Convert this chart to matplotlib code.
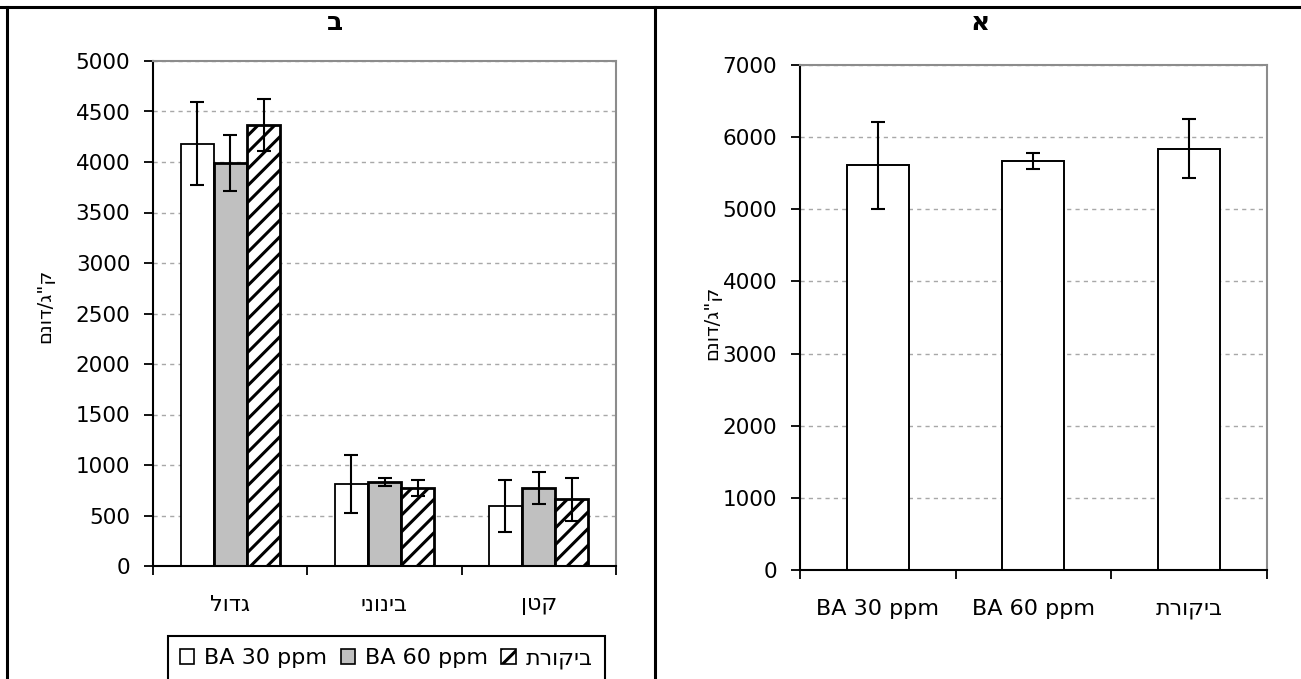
import matplotlib
matplotlib.use("Agg")
import matplotlib.pyplot as plt
from matplotlib.patches import Patch
from matplotlib.lines import Line2D
import numpy as np

plt.rcParams['font.family'] = ['DejaVu Sans']
plt.rcParams['hatch.linewidth'] = 2.2


def heb(s):
    # matplotlib has no bidi, so Hebrew strings are handed over in visual order
    if any('\u0590' <= c <= '\u05ff' for c in s):
        return s[::-1]
    return s


# panel ב - yield split by fruit size
sizes = ['גדול', 'בינוני', 'קטן']
ba30 = [4180, 810, 595]
ba30_err = [410, 290, 260]
ba60 = [3990, 830, 775]
ba60_err = [275, 40, 160]
control = [4365, 770, 660]
control_err = [260, 80, 210]

# panel א - total yield
treatments = ['BA 30 ppm', 'BA 60 ppm', 'ביקורת']
total = [5610, 5670, 5840]
total_err = [600, 110, 405]

ylabel = 'ק"ג/דונם'
W, H = 1301, 679

fig = plt.figure(figsize=(W / 100, H / 100), dpi=100)
axL = fig.add_axes([153.3 / W, 113 / H, 462.4 / W, 505 / H])
axR = fig.add_axes([800 / W, 109 / H, 466.7 / W, 505 / H])


def style(ax, ymax, step, labels):
    ax.set_xlim(-0.5, 2.5)
    ax.set_ylim(0, ymax)
    ax.set_yticks(np.arange(0, ymax + 1, step))
    # excel style: ticks between categories, labels in the middle
    ax.set_xticks([-0.5, 0.5, 1.5, 2.5])
    ax.set_xticklabels([])
    ax.set_xticks([0, 1, 2], minor=True)
    ax.set_xticklabels([heb(s) for s in labels], minor=True)
    ax.tick_params(axis='x', which='minor', length=0, pad=21, labelsize=16)
    ax.tick_params(axis='x', which='major', length=6.5, width=1.3, direction='out')
    ax.tick_params(axis='y', length=6.5, width=1.3, pad=10, labelsize=15.5)
    for s in ['top', 'right']:
        ax.spines[s].set_color('#8c8c8c')
        ax.spines[s].set_linewidth(1.5)
    for s in ['left', 'bottom']:
        ax.spines[s].set_color('black')
        ax.spines[s].set_linewidth(1.5)
    ax.yaxis.grid(True, color='#a8a8a8', linestyle=(0, (3, 3)), linewidth=1)
    ax.set_axisbelow(True)


ekw = dict(elinewidth=1.5, capthick=1.5, ecolor='black')

# left panel
x = np.arange(len(sizes))
w = 0.215
axL.bar(x - w, ba30, w, yerr=ba30_err, capsize=4.7, error_kw=ekw,
        color='white', edgecolor='black', linewidth=1.3)
axL.bar(x, ba60, w, yerr=ba60_err, capsize=4.7, error_kw=ekw,
        color='#c0c0c0', edgecolor='black', linewidth=2)
axL.bar(x + w, control, w, yerr=control_err, capsize=4.7, error_kw=ekw,
        color='white', edgecolor='black', hatch='//', linewidth=2)
style(axL, 5000, 500, sizes)
axL.set_ylabel(heb(ylabel), fontsize=14)
axL.yaxis.set_label_coords(-0.214, 0.515)

# right panel
xr = np.arange(len(treatments))
axR.bar(xr, total, 0.4, yerr=total_err, capsize=4.7, error_kw=ekw,
        color='white', edgecolor='black', linewidth=1.4)
style(axR, 7000, 1000, treatments)
axR.set_ylabel(heb(ylabel), fontsize=14)
axR.yaxis.set_label_coords(-0.169, 0.49)

# legend under the left panel (cut by the page edge like the original)
handles = [Patch(facecolor='white', edgecolor='black', linewidth=1.2),
           Patch(facecolor='#c0c0c0', edgecolor='black', linewidth=1.2),
           Patch(facecolor='white', edgecolor='black', hatch='//', linewidth=1.2)]
leg = fig.legend(handles, [heb(t) for t in treatments], loc='upper left',
                 bbox_to_anchor=(167.6 / W, 1 - 636 / H), ncol=3, fancybox=False,
                 edgecolor='black', framealpha=1, fontsize=16, handlelength=0.65,
                 handleheight=0.65, handletextpad=0.45, columnspacing=0.6,
                 borderpad=0.55, borderaxespad=0)
leg.get_frame().set_linewidth(1.5)

# panel titles
fig.text(335 / W, 1 - 23 / H, 'ב', ha='center', va='center', fontsize=19, fontweight='bold')
fig.text(980 / W, 1 - 23 / H, 'א', ha='center', va='center', fontsize=19, fontweight='bold')

# table borders around the two cells
bw = 2.2
fig.add_artist(Line2D([0, 1], [1 - 6.5 / H] * 2, transform=fig.transFigure, color='black', linewidth=bw))
fig.add_artist(Line2D([6.5 / W] * 2, [0, 1 - 6.5 / H], transform=fig.transFigure, color='black', linewidth=bw))
fig.add_artist(Line2D([655 / W] * 2, [0, 1 - 6.5 / H], transform=fig.transFigure, color='black', linewidth=bw))

fig.savefig('out.png', dpi=100)
